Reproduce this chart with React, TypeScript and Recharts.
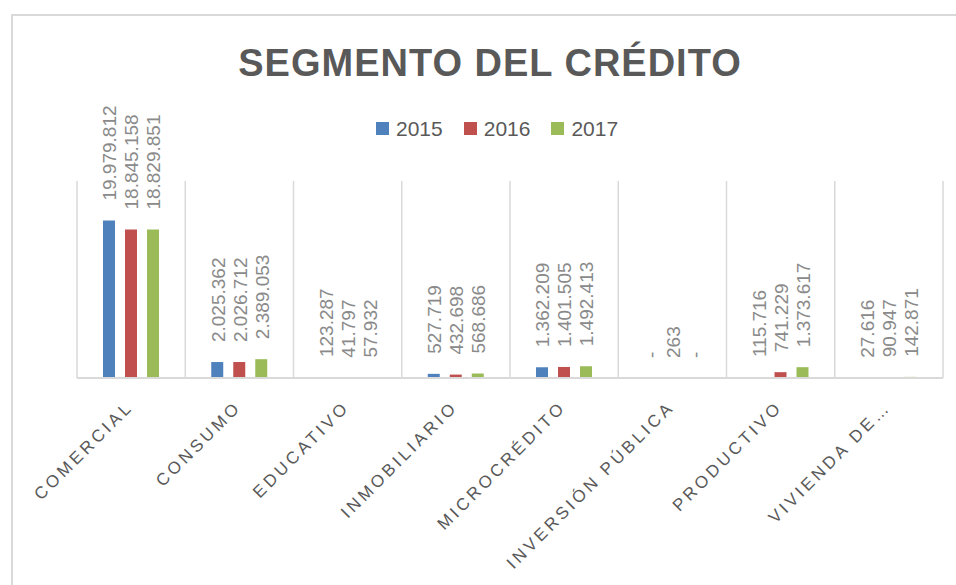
import React from 'react';
import { BarChart, Bar, XAxis, YAxis, CartesianGrid, Legend, LabelList } from 'recharts';

const categories = ['COMERCIAL', 'CONSUMO', 'EDUCATIVO', 'INMOBILIARIO', 'MICROCRÉDITO', 'INVERSIÓN PÚBLICA', 'PRODUCTIVO', 'VIVIENDA DE…'];
const values2015 = [19979812, 2025362, 123287, 527719, 1362209, 0, 115716, 27616];
const values2016 = [18845158, 2026712, 41797, 432698, 1401505, 263, 741229, 90947];
const values2017 = [18829851, 2389053, 57932, 568686, 1492413, 0, 1373617, 142871];
const seriesNames = ['2015', '2016', '2017'];
const seriesColors = ['#4F81BD', '#C0504D', '#9BBB59'];
const yDomain = [0, 25000000];

const data = categories.map((c, i) => ({
  name: c,
  y2015: values2015[i],
  y2016: values2016[i],
  y2017: values2017[i],
}));

const fmt = (v: number) => (v === 0 ? '-' : String(v).replace(/\B(?=(\d{3})+(?!\d))/g, '.'));

const FONT = '"Liberation Sans", Arial, sans-serif';

const renderLabel = (props: any) => {
  const vb = props.viewBox || {};
  const x = props.x ?? vb.x;
  const y = props.y ?? vb.y;
  const w = props.width ?? vb.width;
  const cx = x + w / 2 + 1;
  const cy = y - 20;
  return (
    <text
      x={cx}
      y={cy}
      transform={`rotate(-90, ${cx}, ${cy})`}
      textAnchor="start"
      dominantBaseline="central"
      fontFamily={FONT}
      fontSize={19}
      fill="#8a8a8a"
    >
      {fmt(Number(props.value))}
    </text>
  );
};

const renderTick = (props: any) => {
  const { x, y, payload } = props;
  const ax = x + 3;
  const ay = y + 30;
  return (
    <text
      x={ax}
      y={ay}
      transform={`rotate(-45, ${ax}, ${ay})`}
      textAnchor="end"
      fontFamily={FONT}
      fontSize={17}
      letterSpacing={3.4}
      fill="#595959"
    >
      {payload.value}
    </text>
  );
};

const renderLegend = (props: any) => {
  const payload = props.payload || [];
  return (
    <div style={{ display: 'flex', alignItems: 'center', fontFamily: FONT, fontSize: 21, lineHeight: '21px', color: '#595959', whiteSpace: 'nowrap' }}>
      {payload.map((p: any, i: number) => (
        <div key={i} style={{ display: 'flex', alignItems: 'center', marginRight: 21 }}>
          <div style={{ width: 13, height: 13, background: p.color, marginRight: 7 }} />
          <span>{p.value}</span>
        </div>
      ))}
    </div>
  );
};

// category boundaries: split the library's plot area into one band per category
const boundaryGenerator = (props: any) => {
  const off = props.offset || {};
  const step = off.width / categories.length;
  return categories.map((_, i) => off.left + i * step).concat(off.left + off.width);
};

export default function App() {
  return (
    <div style={{ position: 'fixed', left: 0, top: 0, width: 956, height: 585, background: '#fff', overflow: 'hidden' }}>
      <div style={{ position: 'absolute', left: 11, top: 14, width: 1000, height: 700, borderTop: '2px solid #d9d9d9', borderLeft: '2px solid #d9d9d9' }} />
      <div
        style={{
          position: 'absolute',
          left: 0,
          width: 980,
          top: 44,
          textAlign: 'center',
          fontFamily: FONT,
          fontWeight: 'bold',
          fontSize: 38,
          lineHeight: '38px',
          letterSpacing: 1,
          color: '#595959',
        }}
      >
        SEGMENTO DEL CRÉDITO
      </div>
      <div style={{ position: 'absolute', left: 0, top: 0 }}>
        <BarChart
          width={956}
          height={585}
          data={data}
          margin={{ top: 181, right: 13, bottom: 177, left: 77 }}
          barGap={10}
        >
          <CartesianGrid
            vertical
            horizontal={false}
            stroke="#d9d9d9"
            strokeWidth={1.5}
            verticalCoordinatesGenerator={boundaryGenerator}
          />
          <XAxis
            dataKey="name"
            height={30}
            interval={0}
            tickSize={0}
            tickMargin={0}
            tickLine={false}
            axisLine={{ stroke: '#d9d9d9', strokeWidth: 2 }}
            tick={renderTick}
          />
          <YAxis hide domain={yDomain} />
          <Legend
            layout="horizontal"
            verticalAlign="middle"
            align="center"
            wrapperStyle={{ position: 'absolute', top: 118, left: 376, width: 'auto' }}
            content={renderLegend}
          />
          {['y2015', 'y2016', 'y2017'].map((k, i) => (
            <Bar key={k} dataKey={k} name={seriesNames[i]} fill={seriesColors[i]} barSize={12} minPointSize={0.01} isAnimationActive={false}>
              <LabelList dataKey={k} content={renderLabel} />
            </Bar>
          ))}
        </BarChart>
      </div>
    </div>
  );
}
